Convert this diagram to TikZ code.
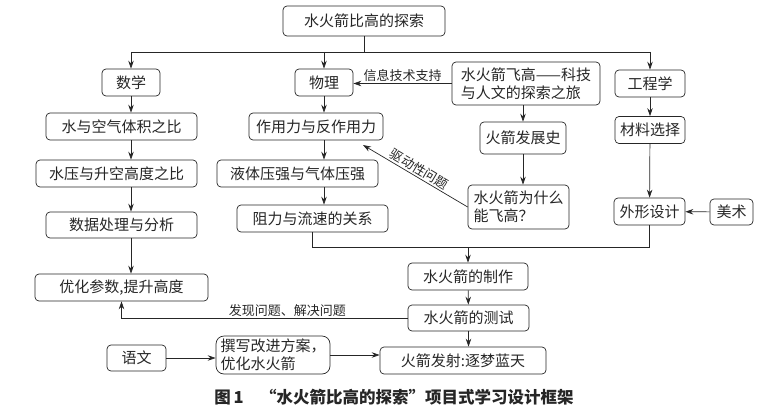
\documentclass[tikz,border=0pt]{standalone}
\usepackage{fontspec}
\setmainfont{Noto Sans CJK SC}
\usetikzlibrary{arrows.meta}

\begin{document}
\begin{tikzpicture}[x=1pt, y=-1pt, line width=0.7pt, color=black!85,
        >={Stealth[length=8pt,width=5.5pt]},
        box/.style={draw, rounded corners=4pt, inner sep=0pt, minimum height=27pt,
            font=\fontsize{15}{18}\selectfont},
        lbl/.style={font=\fontsize{13}{15}\selectfont, inner sep=1.5pt}]
    \useasboundingbox (0,0) rectangle (767,412);

    % top and subjects
    \node[box, minimum width=162pt, minimum height=30pt] (top) at (364,21) {水火箭比高的探索};
    \node[box, minimum width=58pt] (shuxue) at (131,82.5) {数学};
    \node[box, minimum width=58pt] (wuli) at (324,82.5) {物理};
    \node[box, minimum width=148pt, minimum height=43pt, align=left] (feigao) at (526,83.5) {水火箭飞高——科技\\与人文的探索之旅};
    \node[box, minimum width=70pt] (gongcheng) at (650,83.5) {工程学};

    % math column
    \node[box, minimum width=151pt] (tiji) at (121.5,126.5) {水与空气体积之比};
    \node[box, minimum width=161pt] (shuiya) at (116.5,173.5) {水压与升空高度之比};
    \node[box, minimum width=151pt, minimum height=26pt] (shuju) at (121.5,225) {数据处理与分析};
    \node[box, minimum width=173pt] (youhua) at (121.5,287.5) {优化参数,提升高度};

    % physics column
    \node[box, minimum width=134pt] (zuoyong) at (316,126.5) {作用力与反作用力};
    \node[box, minimum width=161pt] (yeti) at (297.5,173.5) {液体压强与气体压强};
    \node[box, minimum width=151pt] (zuli) at (312.5,218.5) {阻力与流速的关系};

    % history column
    \node[box, minimum width=86pt, minimum height=32pt] (fazhan) at (523,138) {火箭发展史};
    \node[box, minimum width=101pt, minimum height=44pt, align=left] (weishenme) at (518.5,207) {水火箭为什么\\能飞高？};

    % engineering column
    \node[box, minimum width=70pt] (cailiao) at (650,130) {材料选择};
    \node[box, minimum width=71pt] (waixing) at (649.5,211.5) {外形设计};
    \node[box, minimum width=43pt, minimum height=26pt] (meishu) at (731.5,212) {美术};

    % making and testing
    \node[box, minimum width=120pt] (zhizuo) at (468,276.5) {水火箭的制作};
    \node[box, minimum width=121pt, minimum height=26pt] (ceshi) at (468.5,318) {水火箭的测试};
    \node[box, minimum width=166pt] (fashe) at (463,360.5) {火箭发射:逐梦蓝天};
    \node[box, minimum width=59pt, minimum height=26pt] (yuwen) at (136.5,358) {语文};
    \node[box, minimum width=114pt, minimum height=38pt, rounded corners=8pt, align=left] (zhuanxie) at (273,355) {撰写改进方案，\\优化水火箭};

    \node[font=\fontsize{16.5}{20}\selectfont\bfseries] (caption) at (394,397) {图\,1\quad “水火箭比高的探索”项目式学习设计框架};

    \coordinate (bus) at (362,52);
    \coordinate (hub) at (468,247);
    \coordinate (qd) at (363,145);

    % top branches
    \draw (top.south) -- (top.south |- bus);
    \draw (shuxue |- bus) -- (gongcheng |- bus);
    \draw[->] (shuxue |- bus) -- (shuxue.north);
    \draw[->] (wuli |- bus) -- (wuli.north);
    \draw[->] (gongcheng |- bus) -- (gongcheng.north);

    \draw[->] (feigao.west) -- (feigao.west -| wuli.east) node[lbl, midway, above] {信息技术支持};
    \draw[->] (feigao.south -| fazhan) -- (fazhan.north);
    \draw[->] (fazhan.south) -- (fazhan.south |- weishenme.north);
    \draw[->] (weishenme.west) -- (qd) node[lbl, midway, above, sloped] {驱动性问题};

    % math arrows
    \draw[->] (shuxue.south) -- (shuxue.south |- tiji.north);
    \draw[->] (tiji.south -| shuxue) -- (shuiya.north -| shuxue);
    \draw[->] (shuiya.south -| shuxue) -- (shuju.north -| shuxue);
    \draw[->] (shuju.south -| shuxue) -- (youhua.north -| shuxue);

    % physics arrows
    \draw[->] (wuli.south) -- (wuli.south |- zuoyong.north);
    \draw[->] (zuoyong.south -| wuli) -- (yeti.north -| wuli);
    \draw[->] (yeti.south -| wuli) -- (zuli.north -| wuli);

    % engineering arrows
    \draw[->] (gongcheng) -- (cailiao);
    \draw[->] (cailiao) -- (waixing);
    \draw[->] (meishu) -- (waixing);

    % to making
    \draw (zuli.south) |- (hub);
    \draw (waixing.south) |- (hub);
    \draw[->] (hub) -- (zhizuo.north);
    \draw[->] (zhizuo) -- (ceshi);
    \draw[->] (ceshi) -- (ceshi |- fashe.north);
    \draw[->] (ceshi.west) -| (youhua.south) node[lbl, pos=0.21, above] {发现问题、解决问题};

    % bottom row
    \draw[->] (yuwen.east) -- (yuwen.east -| zhuanxie.west);
    \draw[->] (zhuanxie.east) -- (zhuanxie.east -| fashe.west);
\end{tikzpicture}
\end{document}
